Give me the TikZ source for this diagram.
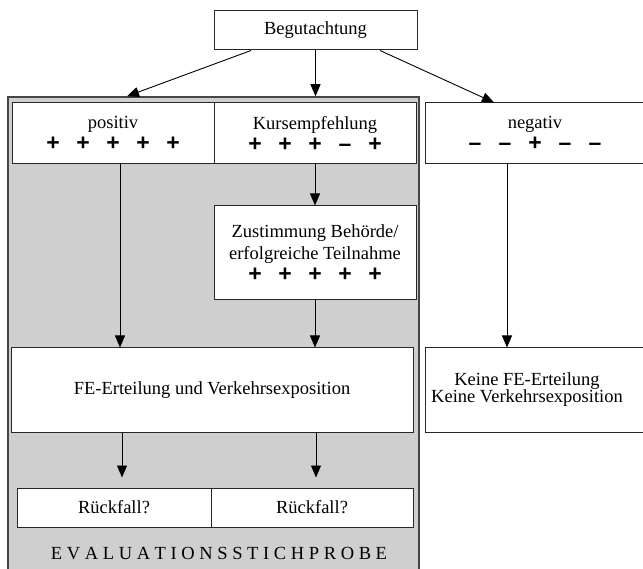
\documentclass[tikz,border=0pt]{standalone}
\usepackage{fontspec}
\setmainfont{Liberation Serif}
\newfontfamily\signfont{Liberation Sans}
\usetikzlibrary{arrows.meta}

\definecolor{samplegray}{RGB}{207,207,207}
\definecolor{framegray}{RGB}{70,70,70}

% one row of five rating signs
\newcommand{\sg}[1]{\makebox[30pt]{#1}}
\newcommand{\signrow}[5]{{\signfont\fontsize{23}{22}\selectfont\bfseries\sg{#1}\sg{#2}\sg{#3}\sg{#4}\sg{#5}}}

\begin{document}
\begin{tikzpicture}[x=1pt, y=-1pt,
  every node/.style={font=\fontsize{18.5}{22}\selectfont},
  box/.style={draw=black!85, line width=1pt, fill=white, inner sep=0pt, align=center},
  arr/.style={-{Triangle[length=12pt,width=10pt]}, line width=0.9pt}]

  \clip (0,0) rectangle (643,569);

  % Grey area: evaluation sample
  \node[draw=framegray, line width=1.5pt, fill=samplegray, inner sep=0pt,
        minimum width=411pt, minimum height=478pt] (sample) at (213.5,336) {};

  % Assessment
  \node[box, minimum width=203pt, minimum height=39pt] (beg) at (315.5,30.5) {Begutachtung};

  % Results of the assessment
  \node[box, minimum width=202pt, minimum height=61pt] (pos) at (113,133.5)
    {positiv\\\signrow{+}{+}{+}{+}{+}};
  \node[box, minimum width=202pt, minimum height=61pt] (kurs) at (315,133.5)
    {Kursempfehlung\\\signrow{+}{+}{+}{–}{+}};
  \node[box, minimum width=220pt, minimum height=61pt] (neg) at (535,133.5)
    {negativ\\\signrow{–}{–}{+}{–}{–}};

  % Course path
  \node[box, minimum width=202pt, minimum height=94pt] (zust) at (315,253)
    {Zustimmung Behörde/\\erfolgreiche Teilnahme\\\signrow{+}{+}{+}{+}{+}};

  % Licence or not
  \node[box, minimum width=402pt, minimum height=84pt] (fe) at (212,390)
    {FE-Erteilung und Verkehrsexposition};
  \node[box, minimum width=220pt, minimum height=84pt, font=\fontsize{18.5}{17}\selectfont] (keine) at (535,390)
    {Keine FE-Erteilung\hspace*{16pt}\\Keine Verkehrsexposition\hspace*{16pt}};

  % Relapse
  \node[box, minimum width=194pt, minimum height=39pt] (rf1) at (114,507.5) {Rückfall?};
  \node[box, minimum width=202pt, minimum height=39pt] (rf2) at (312,507.5) {Rückfall?};

  \node (label) at (219,554) {E V A L U A T I O N S S T I C H P R O B E};

  % Arrows
  \draw[arr] ([xshift=-64.5pt]beg.south) -- ([xshift=14pt]pos.north |- sample.north);
  \draw[arr] (beg.south) -- (beg.south |- sample.north);
  \draw[arr] ([xshift=64.5pt]beg.south) -- ([xshift=-41pt]neg.north);

  \draw[arr] ([xshift=7pt]pos.south) -- ([xshift=7pt]pos.south |- fe.north);
  \draw[arr] (kurs.south) -- (zust.north);
  \draw[arr] (zust.south) -- (zust.south |- fe.north);
  \draw[arr] ([xshift=-28pt]neg.south) -- ([xshift=-28pt]neg.south |- keine.north);

  \draw[arr] ([xshift=-90pt]fe.south) -- ([xshift=-90pt,yshift=10pt]fe.south |- rf1.north);
  \draw[arr] ([xshift=104pt]fe.south) -- ([xshift=104pt,yshift=10pt]fe.south |- rf2.north);
\end{tikzpicture}
\end{document}
